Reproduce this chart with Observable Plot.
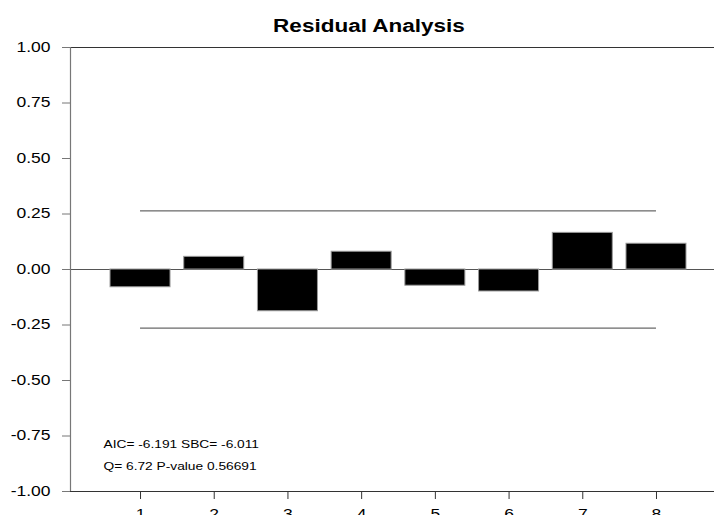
<!DOCTYPE html>
<html><head><meta charset="utf-8">
<script src="https://cdn.jsdelivr.net/npm/d3@7"></script>
<script src="https://cdn.jsdelivr.net/npm/@observablehq/plot@0.6"></script>
<style>
body{margin:0;background:#fff;}
#wrap{position:relative;width:714px;height:515px;overflow:hidden;}
#title{position:absolute;left:0;width:738px;top:17px;text-align:center;font:bold 18px/18px "Liberation Sans",Arial,sans-serif;color:#000;transform:scaleX(1.25);transform-origin:369px 0;}
</style></head><body>
<div id="wrap"><div id="chart"></div><div id="title">Residual Analysis</div></div>
<script>
const lags = [1, 2, 3, 4, 5, 6, 7, 8];
const residualAcf = [-0.080, 0.057, -0.188, 0.080, -0.073, -0.099, 0.165, 0.116];
const ciUpper = 0.264;
const ciLower = -0.264;
const yTicks = [-1, -0.75, -0.5, -0.25, 0, 0.25, 0.5, 0.75, 1];
const xTicks = [1, 2, 3, 4, 5, 6, 7, 8];
const annotations = ["AIC= -6.191 SBC= -6.011", "Q= 6.72 P-value 0.56691"];

const xDomain = [0.05, 8.787];
const yDomain = [-1, 1];
const barHalf = 0.407;
const data = lags.map((lag, i) => ({lag, value: residualAcf[i]}));

const plot = Plot.plot({
  width: 714, height: 515,
  marginTop: 47, marginBottom: 24, marginLeft: 70, marginRight: 0,
  style: {fontFamily: '"Liberation Sans", Arial, sans-serif', fontSize: "14px", color: "#000", background: "transparent", overflow: "visible"},
  x: {domain: xDomain},
  y: {domain: yDomain},
  marks: [
    Plot.ruleY([0], {stroke: "#555", strokeWidth: 1}),
    Plot.rect(data, {x1: d => d.lag - barHalf, x2: d => d.lag + barHalf, y1: 0, y2: "value", fill: "#000", stroke: "#999", strokeWidth: 1}),
    Plot.ruleY([ciUpper, ciLower], {x1: lags[0], x2: lags[lags.length - 1], stroke: "#444", strokeWidth: 1}),
    Plot.ruleY(yDomain, {stroke: "#333", strokeWidth: 1.2}),
    Plot.ruleX([xDomain[0]], {stroke: "#777", strokeWidth: 1.2}),
    Plot.axisY({ticks: yTicks, tickFormat: d => d.toFixed(2), tickSize: 8, tickPadding: 12, stroke: "#777", label: null}),
    Plot.axisX({ticks: xTicks, tickFormat: d => String(d), tickSize: 8, tickPadding: 10, stroke: "#333", label: null}),
    Plot.text([annotations[0]], {text: d => d, frameAnchor: "bottom-left", dx: 33, dy: -44, textAnchor: "start", fontSize: 11, fill: "#000"}),
    Plot.text([annotations[1]], {text: d => d, frameAnchor: "bottom-left", dx: 33, dy: -22, textAnchor: "start", fontSize: 11, fill: "#000"})
  ]
});

plot.querySelectorAll("text").forEach(t => {
  const tr = t.getAttribute("transform");
  if (tr) t.setAttribute("transform", tr + " scale(1.25,1)");
  else {
    const x = +t.getAttribute("x") || 0, y = +t.getAttribute("y") || 0;
    t.removeAttribute("x"); t.removeAttribute("y");
    t.setAttribute("transform", `translate(${x},${y}) scale(1.25,1)`);
  }
});
document.getElementById("chart").append(plot);
</script>
</body></html>
